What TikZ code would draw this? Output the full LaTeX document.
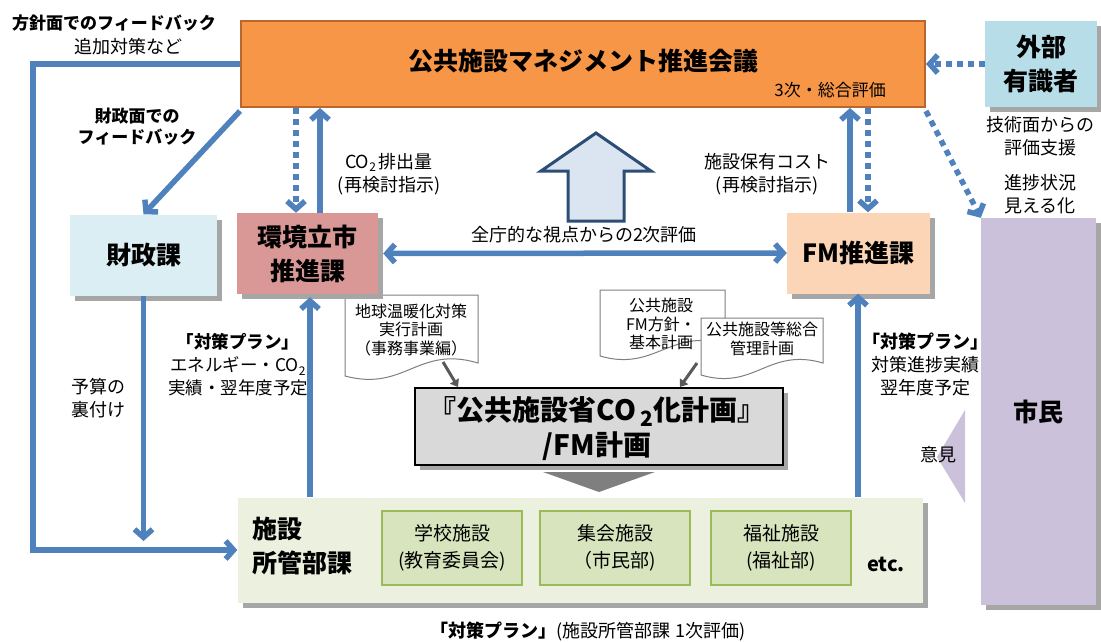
\documentclass[tikz,border=0pt]{standalone}
\usepackage{fontspec}
\setmainfont{Noto Sans CJK JP}
\usetikzlibrary{arrows.meta,shadows,calc}
\definecolor{arrblue}{HTML}{4F81BD}
\definecolor{orangef}{HTML}{F79646}
\definecolor{oranged}{HTML}{B8682E}
\definecolor{extf}{HTML}{B7DEE8}
\definecolor{finf}{HTML}{DBEEF4}
\definecolor{envf}{HTML}{D99795}
\definecolor{fmf}{HTML}{FBD5B5}
\definecolor{citf}{HTML}{CCC1DA}
\definecolor{sitef}{HTML}{EBF1DE}
\definecolor{innerf}{HTML}{D7E4BD}
\definecolor{innerd}{HTML}{9BBB59}
\definecolor{planf}{HTML}{D9D9D9}
\definecolor{bigf}{HTML}{DBE5F1}
\definecolor{bigd}{HTML}{2C4D75}
\definecolor{docd}{HTML}{7F7F7F}
\definecolor{garrc}{HTML}{595959}
\definecolor{tric}{HTML}{7F7F7F}
\definecolor{shadc}{HTML}{A6A6A6}
\newcommand\fsz[2]{\fontsize{#1}{#2}\selectfont}
\newcommand\subtwo[1]{\raisebox{-0.35ex}{\fontsize{#1}{#1}\selectfont 2}}
\begin{document}
\begin{tikzpicture}[x=1pt,y=-1pt,
  every node/.style={inner sep=0pt, align=center},
  lab/.style={font=\fsz{18}{23}},
  blab/.style={font=\bfseries\fsz{17}{21}},
  ttl/.style={font=\bfseries\fsz{25}{34}},
  shadowed/.style={drop shadow={shadow xshift=5pt,shadow yshift=-5pt,fill=shadc,opacity=1}},
  box/.style={draw=none, shadowed},
  inner/.style={fill=innerf, draw=innerd, line width=2pt, minimum height=74pt, font=\fsz{19}{27}},
  doctext/.style={font=\fsz{16}{18.5}},
  docline/.style={draw=docd, fill=white, line width=1pt},
  arr/.style={draw=arrblue, line width=5.5pt, -{Straight Barb[length=8pt,width=18pt]}},
  darr/.style={arr, dash pattern=on 6pt off 5pt},
  dblarr/.style={draw=arrblue, line width=5.5pt, {Straight Barb[length=8pt,width=18pt]}-{Straight Barb[length=8pt,width=18pt]}},
  garr/.style={draw=garrc, line width=3pt, -{Triangle[length=7pt,width=10pt]}}
]
\useasboundingbox (0,0) rectangle (1101,642);

% documents
\path[docline] (345,295) -- (478,295) -- (478,363) .. controls (418,345) and (405,392) .. (345,376) -- cycle;
\node[doctext] (doc1) at (411,330) {地球温暖化対策\\実行計画\\（事務事業編）};
\path[docline] (600,290) -- (725,290) -- (725,344) .. controls (670,328) and (655,372) .. (600,356) -- cycle;
\node[doctext] (doc2) at (661,324) {公共施設\\FM方針・\\基本計画};
\path[docline] (701,318) -- (823,318) -- (823,363) .. controls (768,347) and (755,391) .. (701,375) -- cycle;
\node[doctext] (doc3) at (762,339) {公共施設等総合\\管理計画};

% top council
\node[fill=orangef, draw=oranged, line width=2pt, minimum width=684pt, minimum height=86pt] (council) at (583,64) {};
\node[ttl] (councilT) at (583,61) {公共施設マネジメント推進会議};
\node[font=\fsz{17}{20}, anchor=east] (councilS) at (886,90) {3次・総合評価};

% external experts
\node[box, ttl, fill=extf, minimum width=112pt, minimum height=86pt] (ext) at (1041,64) {外部\\有識者};
\node[lab] (extL1) at (1040,136) {技術面からの\\評価支援};
\node[lab] (extL2) at (1040,194) {進捗状況\\見える化};

% citizens
\node[box, ttl, fill=citf, minimum width=115pt, minimum height=387pt] (city) at (1038.5,411.5) {市民};
\fill[citf] (965,410) -- (965,503) -- (937,457) -- cycle;
\node[lab] (opL) at (938,455) {意見};

% divisions
\node[box, ttl, fill=finf, minimum width=147pt, minimum height=81pt] (fin) at (143.5,255) {財政課};
\node[box, ttl, fill=envf, minimum width=141pt, minimum height=81pt] (env) at (307.5,253.5) {環境立市\\推進課};
\node[box, ttl, fill=fmf, minimum width=143pt, minimum height=81pt] (fm) at (858.5,253) {FM推進課};

% plan box
\node[fill=planf, draw=black, line width=2pt, shadowed, minimum width=368pt, minimum height=77pt] (plan) at (599,426.5) {};
\node[font=\bfseries\fsz{28}{35}] (planT) at (597,429) {『公共施設省CO\,\subtwo{21}化計画』\\/FM計画};
\fill[tric] (543,472) -- (655,472) -- (599,492) -- cycle;

% facility departments
\node[box, fill=sitef, minimum width=685pt, minimum height=105pt] (site) at (580,550) {};
\node[ttl, anchor=west, align=left] (siteT) at (252,546) {施設\\所管部課};
\node[inner, minimum width=140pt] (school) at (452,548) {学校施設\\(教育委員会)};
\node[inner, minimum width=150pt] (hall) at (615,548) {集会施設\\（市民部)};
\node[inner, minimum width=140pt] (welfare) at (781,548) {福祉施設\\(福祉部)};
\node[font=\bfseries\fsz{20}{24}] (etc) at (886,564) {etc.};
\node[font=\fsz{18}{22}] (cap) at (588,631) {{\bfseries 「対策プラン」}(施設所管部課\ 1次評価)};

% labels
\node[blab] (polL) at (114,23) {方針面でのフィードバック};
\node[lab] (polL2) at (128,47) {追加対策など};
\node[blab] (finL) at (137,127) {財政面での\\フィードバック};
\node[lab] (co2L) at (389,174) {CO\subtwo{12}\,排出量\\(再検討指示)};
\node[lab] (costL) at (767,174) {施設保有コスト\\(再検討指示)};
\node[lab] (secL) at (584,235) {全庁的な視点からの2次評価};
\node[font=\fsz{17.5}{23}] (envPlan) at (238,365) {{\bfseries 「対策プラン」}\\エネルギー・CO\subtwo{12}\\実績・翌年度予定};
\node[lab] (fmPlan) at (925,364) {{\bfseries 「対策プラン」}\\対策進捗実績\\翌年度予定};
\node[lab] (budL) at (98,398) {予算の\\裏付け};

% big hollow arrow
\draw[bigd, fill=bigf, line width=3pt, line join=miter] (596,133) -- (651,171) -- (624,171) -- (624,221) -- (568,221) -- (568,171) -- (541,171) -- cycle;

% connectors
\coordinate (d1a) at (443,362);
\coordinate (d3a) at (697,363);
\draw[garr] (d1a) -- (plan.north -| 458,0);
\draw[garr] (d3a) -- (plan.north -| 680,0);

\draw[arr] (council.west) -- (33,64) -- (33,550) -- (site.west |- 33,550);
\draw[arr] ($(council.south west)+(0,3)$) -- (fin.north);
\draw[arr] (fin.south) -- (fin.south |- 0,541);
\draw[darr] (council.south -| 296,0) -- (env.north -| 296,0);
\draw[arr] (env.north -| 320,0) -- (council.south -| 320,0);
\draw[arr] (fm.north -| 850,0) -- (council.south -| 850,0);
\draw[darr] (council.south -| 868,0) -- (fm.north -| 868,0);
\draw[darr] (ext.west) -- (council.east |- ext.west);
\draw[darr] ($(council.south east)+(0,3)$) -- (city.north west);
\draw[dblarr, shorten <=5pt] (env.east) -- (fm.west);
\draw[arr, shorten >=3pt] (site.north -| 310,0) -- (env.south -| 310,0);
\draw[arr] (site.north -| 858,0) -- (fm.south -| 858,0);
\end{tikzpicture}
\end{document}
